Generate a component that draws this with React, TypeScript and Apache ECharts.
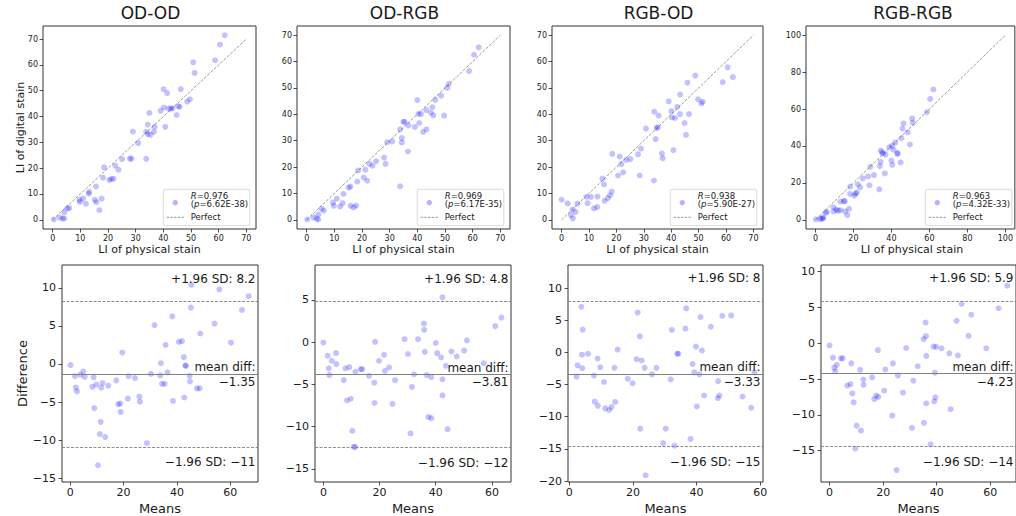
import React, { useEffect, useRef } from "react";
import * as echarts from "echarts";

// ---------- text / stats ----------
const titles = ["OD-OD", "OD-RGB", "RGB-OD", "RGB-RGB"];
const rValues = ["0.976", "0.969", "0.938", "0.963"];
const pValues = ["6.62E-38", "6.17E-35", "5.90E-27", "4.32E-33"];

// ---------- scatter (LI physical, LI digital) ----------
const odOdScatter = [
  [0.4, 0.1], [2.5, 0.8], [3.6, 0.5], [4.2, 0.5], [4.2, 2.9], [5.3, 4.4], [6.0, 4.5], [9.7, 7.7], [9.8, 6.9],
  [11, 8.3], [12, 6.2], [13.2, 10.8], [13, 10.1], [15.2, 7.7], [15.7, 12.9], [15.8, 6.8], [16.9, 3.7], [17.7, 8.2],
  [18.2, 16.3], [18.6, 20.3], [20.5, 15.4], [21.2, 15.8], [22, 15.9], [22.6, 21], [23.8, 19.4], [25.1, 23.5],
  [27.9, 23.7], [28.5, 23.7], [29, 34.2], [30.9, 29.7], [33.8, 23.6], [33.8, 34.1], [34.4, 36.9], [34.4, 33.2],
  [35, 41.4], [35.4, 32.9], [36.6, 34.1], [36.9, 36], [39, 42.2], [40.1, 50.6], [40.2, 43.5], [40.7, 36],
  [41.4, 49.1], [41.9, 43.1], [42.8, 43.1], [43.3, 43.2], [44.8, 40.6], [45.4, 44], [45.9, 43.7], [46.3, 50.6],
  [48.6, 45.8], [49.6, 46.7], [50.8, 61], [51.3, 56.9], [58.7, 61.8], [60.5, 67.9], [62.2, 71.5],
];
const odRgbScatter = [
  [0.2, 0.1], [2.5, 0.9], [3.6, 0.4], [4.2, 0.1], [4.2, 2], [5.4, 4.1], [6.2, 3.5], [9.5, 6.5], [9.8, 5.3],
  [10.9, 8], [12.1, 5], [13, 6.3], [13.3, 9.8], [15.2, 12.2], [15.8, 12.6], [15.9, 5.3], [17, 4.7], [17.9, 5.4],
  [18.3, 14.5], [18.6, 18.7], [20.6, 16], [21.2, 19], [21.9, 14.8], [22.7, 21.2], [23.8, 20.5], [25.1, 22.2],
  [28, 23.6], [28.5, 21.2], [29.1, 29.4], [30.9, 29.7], [33.8, 12.7], [33.8, 34.3], [34.4, 31], [34.4, 29.3],
  [35, 37.2], [35.4, 37.1], [36.8, 35.8], [36.6, 25.9], [39.1, 35.2], [40, 45.4], [40.4, 40.2], [40.7, 36.7],
  [41.3, 40.1], [42.1, 33.3], [43.2, 41.6], [43.3, 34.3], [44.9, 40.6], [45.4, 42.7], [45.8, 39.6], [46.5, 45.5],
  [48.6, 47.1], [49.7, 39.5], [50.8, 50], [51.3, 51.5], [58.7, 56.4], [60.5, 62.6], [62.2, 65.4],
];
const rgbOdScatter = [
  [0, 7.6], [2.2, 6.2], [3.4, 1.8], [4, 3.9], [4.1, 0.5], [5.1, 3], [5.8, 6.1], [9.1, 8.7], [9.5, 6.3],
  [10.7, 8.7], [11.8, 4.3], [13, 4.8], [13.1, 8.8], [14.9, 15.6], [15.5, 13.4], [15.7, 7.2], [16.9, 8.2],
  [17.7, 9.3], [18.3, 10.7], [18.5, 25], [20.6, 16.8], [21.2, 24], [21.8, 21.1], [22.5, 18], [23.6, 22.7],
  [25.1, 23], [27.9, 24.8], [28.5, 16.8], [29, 27], [30.8, 34.6], [33.7, 14.9], [33.8, 41], [34.3, 30.6],
  [34.7, 34.8], [35.1, 35.1], [35.4, 39.5], [36.6, 25.1], [36.9, 23.3], [39.1, 44.9], [40.1, 41.2], [40.3, 38.8],
  [40.8, 26.4], [41.4, 38.6], [42.2, 42.8], [43.2, 40.1], [43.3, 47.5], [44.9, 36.7], [45.4, 32.2], [45.9, 52],
  [46.5, 40.1], [48.8, 54.7], [49.8, 45.7], [51, 44.1], [51.5, 44.8], [58.8, 52.2], [60.6, 57.8], [62.5, 54.1],
];
const rgbRgbScatter = [
  [0.2, 0.2], [2.4, 0.5], [3.3, 0.5], [4, 0.7], [4, 1.4], [5.5, 3.8], [5.9, 4.3], [9.5, 4.5], [9.5, 6.8],
  [10.9, 5.4], [11.9, 5], [13.1, 5.2], [13.1, 9.9], [14.9, 10.1], [15.4, 10.1], [15.6, 4.5], [16.8, 2.5],
  [17.6, 5.9], [18.2, 14], [18.3, 18], [20.4, 13.1], [21.1, 14.2], [21.8, 14.7], [22.3, 19.2], [23.5, 17.6],
  [24.9, 22.4], [27.7, 23.5], [28.4, 18.7], [28.9, 28.7], [30.8, 24.2], [33.6, 16.5], [33.9, 29.1], [34.3, 31.4],
  [34.4, 37.5], [35.1, 36.6], [35.5, 35.9], [36.5, 25.1], [36.9, 35.4], [38.9, 39.3], [40, 32.1], [40.3, 40],
  [40.5, 29.8], [41.2, 37.9], [42, 41.8], [43.1, 35.7], [43.3, 36.1], [44.8, 31.1], [45.3, 44.2], [45.8, 49.4],
  [46.4, 52.2], [48.6, 47.4], [49.7, 40.8], [50.9, 54.9], [51.2, 52.6], [58.7, 58.3], [60.4, 65.5], [62.1, 70.6],
];
const perfect70 = [[0, 0], [70, 70]];
const perfect100 = [[0, 0], [100, 100]];

// ---------- Bland-Altman (means, difference) ----------
const odOdBA = [
  [0.1, -0.14], [1.75, -1.6], [2.1, -3.1], [2.5, -3.6], [3.75, -1.4], [4.9, -1.0], [5.4, -1.7], [8.25, -3.0],
  [8.75, -1.75], [9, -5.8], [9.75, -2.7], [10.4, -13.3], [11.1, -9.2], [11.4, -7.6], [11.6, -3.1], [12.1, -2.5],
  [13.1, -9.6], [14.25, -2.85], [17.25, -2.15], [18, -5.3], [18.75, -5.2], [18.9, -6.3], [19.5, 1.5],
  [21.6, -4.55], [21.9, -1.6], [24.25, -1.85], [25.9, -4.3], [26.1, -4.95], [28.75, -10.4], [30.25, -1.3],
  [31.6, 5.1], [33.75, -1.5], [34, 0.1], [34.4, -2.6], [35.4, -2.6], [35.75, 2.5], [36.5, -1.1], [38.25, 6.25],
  [38.5, -4.85], [40.75, 2.9], [41.9, 3.0], [42.6, 0.9], [42.75, -4.4], [43.1, -0.2], [43.4, -0.25],
  [44.75, -1.55], [44.9, -2.3], [45.25, 7.4], [45.4, 10.4], [47.5, -3.2], [48.5, -3.2], [48.75, 4.0],
  [54.1, 5.3], [55.9, 9.8], [60.25, 2.8], [64.4, 7.1], [66.9, 8.9],
];
const odRgbBA = [
  [0, -0.05], [1.5, -1.6], [1.9, -3.1], [2.1, -3.9], [2.95, -2.2], [4.5, -1.3], [4.6, -2.6], [7.25, -4.5],
  [7.85, -3.1], [8.4, -6.9], [9.25, -2.95], [9.75, -6.7], [10.3, -10.5], [10.8, -12.4], [11.3, -12.4],
  [11.4, -3.5], [13.3, -3.2], [13.8, -3.2], [16.2, -4.0], [18.1, -4.8], [18.2, -7.2], [18.4, 0.03],
  [19.8, -2.2], [21.6, -1.5], [21.9, -3.4], [23.4, -3.0], [24.6, -7.3], [25.5, -4.5], [28.9, 0.35],
  [30.1, -1.4], [31, -10.8], [31.5, -5.3], [32.3, -3.8], [33.7, 0.35], [35.8, 2.2], [35.9, 1.45], [36.1, -1.15],
  [36.8, -3.9], [37.4, -8.85], [38.4, -9.0], [38.4, -4.15], [40, -0.1], [40.5, -1.3], [41.9, -1.8], [42.4, 5.3],
  [42.4, -4.4], [42.4, -6.3], [43.6, -2.8], [44.2, -10.3], [45.6, -1.1], [47.5, -1.7], [50.1, -1.0],
  [51.1, 0.2], [57.1, -2.5], [61.2, 1.9], [63.4, 2.9],
];
const rgbOdBA = [
  [2.3, -3.75], [2.6, -2.0], [3.8, 7.1], [4.0, -0.35], [4.1, -2.45], [4.2, 3.55], [5.9, -0.2], [7.75, -3.6],
  [8.0, -7.65], [8.9, -0.95], [9.0, -8.3], [9.75, -2.3], [10.9, -4.6], [11.3, -8.7], [12.5, -8.95], [13.3, -8.5],
  [14.2, -2.4], [14.45, -7.7], [15.2, 0.45], [18.4, -4.1], [19.9, -4.8], [21.15, -1.05], [21.5, 6.2],
  [22.2, 2.5], [22.3, -11.85], [22.8, -1.25], [23.7, -2.4], [24, -19.1], [26, -3.4], [27.4, -2.4],
  [29.5, -14.1], [30.3, -11.85], [31.9, -4.2], [32.25, 3.5], [33.1, -14.5], [33.9, -0.2], [34.3, -0.2],
  [36.5, 3.7], [36.75, 6.85], [38.1, -13.45], [38.75, -1.8], [39.3, -3.1], [39.8, 0.9], [40.1, -8.4],
  [40.9, -3.4], [41.25, 5.5], [41.7, 0.3], [42.4, -6.7], [44.5, 4.0], [46.7, -7.1], [46.8, -4.45],
  [47.2, -6.7], [48.1, 5.7], [50.9, 5.75], [54.45, -6.85], [57.2, -8.6], [58.2, -3.1],
];
const rgbRgbBA = [
  [0, -0.3], [1.25, -2.0], [1.75, -3.4], [2.1, -3.9], [2.7, -3.0], [4.2, -2.1], [4.9, -2.1], [6.6, -5.9],
  [7.8, -5.7], [8.1, -2.8], [8.5, -7.0], [9, -8.25], [9.6, -14.7], [10.1, -11.5], [11.45, -3.7], [11.7, -12.2],
  [12.6, -5.05], [12.7, -5.8], [15.9, -4.75], [16.7, -7.8], [17.4, -7.3], [18.05, -0.95], [18.2, -7.5],
  [20.4, -6.6], [20.8, -3.65], [23.4, -10.1], [23.65, -2.8], [25.5, -4.5], [25, -17.7], [27.4, -6.9],
  [28.6, -0.65], [30.75, -11.8], [31.25, -5.2], [32.9, -3.2], [35.2, -11.1], [35.1, 0.6], [35.85, 2.9],
  [36, 1.0], [36.1, -1.75], [36.1, -8.4], [37.7, -14.1], [38.8, -0.45], [39.1, -8.1], [39.5, -7.55],
  [39.3, -4.1], [39.8, -0.5], [41.8, -0.7], [44.7, -1.4], [45.2, -9.2], [47.4, 3.15], [47.9, -1.7],
  [49.3, 5.5], [51.9, 1.05], [52.9, 4.0], [58.5, -0.7], [63.1, 4.9], [66.35, 8.05],
];

const baUpper = [8.2, 4.8, 8.0, 5.9];
const baMean = [-1.35, -3.81, -3.33, -4.23];
const baLower = [-10.9, -12.42, -14.66, -14.36];
const baUpperLabels = ["+1.96 SD: 8.2", "+1.96 SD: 4.8", "+1.96 SD: 8", "+1.96 SD: 5.9"];
const baMeanLabels = ["\u22121.35", "\u22123.81", "\u22123.33", "\u22124.23"];
const baLowerLabels = ["\u22121.96 SD: \u221211", "\u22121.96 SD: \u221212", "\u22121.96 SD: \u221215", "\u22121.96 SD: \u221214"];

// ---------- ticks ----------
const ticks70 = [0, 10, 20, 30, 40, 50, 60, 70];
const ticks100 = [0, 20, 40, 60, 80, 100];
const topTicks = [ticks70, ticks70, ticks70, ticks100];
const botXTicks = [0, 20, 40, 60];
const botYTicks = [
  [-15, -10, -5, 0, 5, 10],
  [-15, -10, -5, 0, 5],
  [-20, -15, -10, -5, 0, 5, 10],
  [-15, -10, -5, 0, 5, 10],
];

// ---------- layout ----------
const TOP = [
  { left: 43, width: 213 }, { left: 297, width: 213 }, { left: 552, width: 211 }, { left: 806, width: 212 },
];
const BOT = [
  { left: 62, width: 196 }, { left: 315, width: 196 }, { left: 568, width: 195 }, { left: 821, width: 195 },
];
const TOP_Y = 26, TOP_H = 203, BOT_Y = 265, BOT_H = 217;
const topXRange = [[-3.5, 73.5], [-3.5, 73.5], [-3.5, 73.5], [-5, 105]];
const topYRange = [[-3.575, 75.075], [-3.5, 73.5], [-3.5, 73.5], [-5, 105]];
const botXRange = [[-3.1, 70.4], [-3.0, 66.8], [-0.4, 60.9], [-3.2, 69.6]];
const botYRange = [[-15.5, 13.0], [-16.55, 9.13], [-20.15, 13.6], [-19.37, 10.94]];

const FONT = "DejaVu Sans";
const POINT = "rgba(0,0,255,0.3)";
const fmt = (v: number) => (v < 0 ? "\u2212" + Math.abs(v) : String(v));

function axis(gridIndex: number, range: number[], ticks: number[], fontSize: number, margin: number) {
  return {
    type: "value",
    gridIndex,
    min: range[0],
    max: range[1],
    axisLine: { show: false, onZero: false },
    splitLine: { show: false },
    axisTick: { show: true, length: 3.5, customValues: ticks, lineStyle: { color: "#222", width: 0.8 } },
    axisLabel: {
      show: true, customValues: ticks, fontSize, margin, color: "#1a1a1a", fontFamily: FONT, fontWeight: "normal",
      formatter: fmt, showMinLabel: true, showMaxLabel: true,
    },
  };
}

export default function App() {
  const ref = useRef<HTMLDivElement>(null);
  useEffect(() => {
    document.body.style.margin = "0";
    if (!ref.current) return;
    const chart = echarts.init(ref.current, null, { renderer: "svg" });
    const scatters = [odOdScatter, odRgbScatter, rgbOdScatter, rgbRgbScatter];
    const perfects = [perfect70, perfect70, perfect70, perfect100];
    const bas = [odOdBA, odRgbBA, rgbOdBA, rgbRgbBA];

    const grid: any[] = [];
    const xAxis: any[] = [];
    const yAxis: any[] = [];
    const series: any[] = [];
    for (let i = 0; i < 4; i++) {
      grid.push({ left: TOP[i].left, top: TOP_Y, width: TOP[i].width, height: TOP_H, show: true, borderColor: "#333", borderWidth: 1, backgroundColor: "transparent" });
      xAxis.push(axis(i, topXRange[i], topTicks[i], 8, 5));
      yAxis.push(axis(i, topYRange[i], topTicks[i], 8, 5));
    }
    for (let i = 0; i < 4; i++) {
      grid.push({ left: BOT[i].left, top: BOT_Y, width: BOT[i].width, height: BOT_H, show: true, borderColor: "#333", borderWidth: 1, backgroundColor: "transparent" });
      xAxis.push(axis(4 + i, botXRange[i], botXTicks, 11, 5));
      yAxis.push(axis(4 + i, botYRange[i], botYTicks[i], 11, 6));
    }
    for (let i = 0; i < 4; i++) {
      series.push({
        type: "line", xAxisIndex: i, yAxisIndex: i, data: perfects[i], symbol: "none", silent: true,
        lineStyle: { color: "#808080", width: 0.8, type: [3, 1.5] }, z: 1,
      });
      series.push({
        type: "scatter", xAxisIndex: i, yAxisIndex: i, data: scatters[i], symbolSize: 6,
        itemStyle: { color: POINT }, z: 2,
      });
    }
    for (let i = 0; i < 4; i++) {
      series.push({
        type: "scatter", xAxisIndex: 4 + i, yAxisIndex: 4 + i, data: bas[i], symbolSize: 6,
        itemStyle: { color: POINT }, z: 2,
        markLine: {
          silent: true, symbol: ["none", "none"], label: { show: false },
          data: [
            { yAxis: baUpper[i], lineStyle: { color: "#808080", width: 0.9, type: [3, 1.5] } },
            { yAxis: baMean[i], lineStyle: { color: "#808080", width: 1, type: "solid" } },
            { yAxis: baLower[i], lineStyle: { color: "#808080", width: 0.9, type: [3, 1.5] } },
          ],
        },
      });
    }

    chart.setOption({ animation: false, backgroundColor: "#fff", grid, xAxis, yAxis, series });

    const g: any[] = [];
    const txt = (x: number, y: number, text: string, fontSize: number, align = "center", extra: any = {}) => ({
      type: "text", silent: true,
      style: { x, y, text, fontSize, fontFamily: FONT, fontWeight: "normal", fill: "#1a1a1a", align, verticalAlign: "middle", ...extra },
    });
    for (let i = 0; i < 4; i++) {
      const l = TOP[i].left, r = l + TOP[i].width, b = TOP_Y + TOP_H;
      g.push(txt(l + TOP[i].width / 2 + 1, 13, titles[i], 17));
      g.push(txt(l + TOP[i].width / 2, 249, "LI of physical stain", 11));
      // legend
      const bx = r - 92.7, by = b - 39.7;
      g.push({ type: "rect", silent: true, shape: { x: bx, y: by, width: 86.5, height: 36.4, r: 2 }, style: { fill: "rgba(255,255,255,0.8)", stroke: "#cfcfcf", lineWidth: 0.8 } });
      g.push({ type: "circle", silent: true, shape: { cx: bx + 12, cy: by + 13.4, r: 2.7 }, style: { fill: POINT } });
      const rich = { i: { fontStyle: "italic", fontSize: 8.5, fontFamily: FONT, fill: "#1a1a1a" } };
      g.push(txt(bx + 27.5, by + 6.6, "{i|R}=" + rValues[i], 8.5, "left", { rich }));
      g.push(txt(bx + 27.5, by + 15, "({i|p}=" + pValues[i] + ")", 8.5, "left", { rich }));
      g.push({ type: "line", silent: true, shape: { x1: bx + 3.3, y1: by + 28, x2: bx + 21, y2: by + 28 }, style: { stroke: "#808080", lineWidth: 0.8, lineDash: [2.5, 1.2] } });
      g.push(txt(bx + 27.5, by + 28, "Perfect", 8.5, "left"));
    }
    const yl: any = txt(0, 0, "LI of digital stain", 11);
    yl.x = 20; yl.y = TOP_Y + TOP_H / 2; yl.rotation = Math.PI / 2;
    g.push(yl);

    for (let i = 0; i < 4; i++) {
      const l = BOT[i].left, r = l + BOT[i].width;
      g.push(txt(l + BOT[i].width / 2, 508, "Means", 13));
      const up = chart.convertToPixel({ xAxisIndex: 4 + i, yAxisIndex: 4 + i }, [0, baUpper[i]]) as number[];
      const mn = chart.convertToPixel({ xAxisIndex: 4 + i, yAxisIndex: 4 + i }, [0, baMean[i]]) as number[];
      const lo = chart.convertToPixel({ xAxisIndex: 4 + i, yAxisIndex: 4 + i }, [0, baLower[i]]) as number[];
      g.push(txt(r - 2.5, up[1] - 22.8, baUpperLabels[i], 12, "right"));
      g.push(txt(r - 2.5, mn[1] - 6.8, "mean diff:", 12, "right"));
      g.push(txt(r - 2.5, mn[1] + 8, baMeanLabels[i], 12, "right"));
      g.push(txt(r - 2.5, lo[1] + 15.5, baLowerLabels[i], 12, "right"));
    }
    const diff: any = txt(0, 0, "Difference", 13);
    diff.x = 22; diff.y = BOT_Y + BOT_H / 2; diff.rotation = Math.PI / 2;
    g.push(diff);

    chart.setOption({ graphic: g });
    return () => chart.dispose();
  }, []);
  return <div ref={ref} style={{ width: 1016, height: 516 }} />;
}
